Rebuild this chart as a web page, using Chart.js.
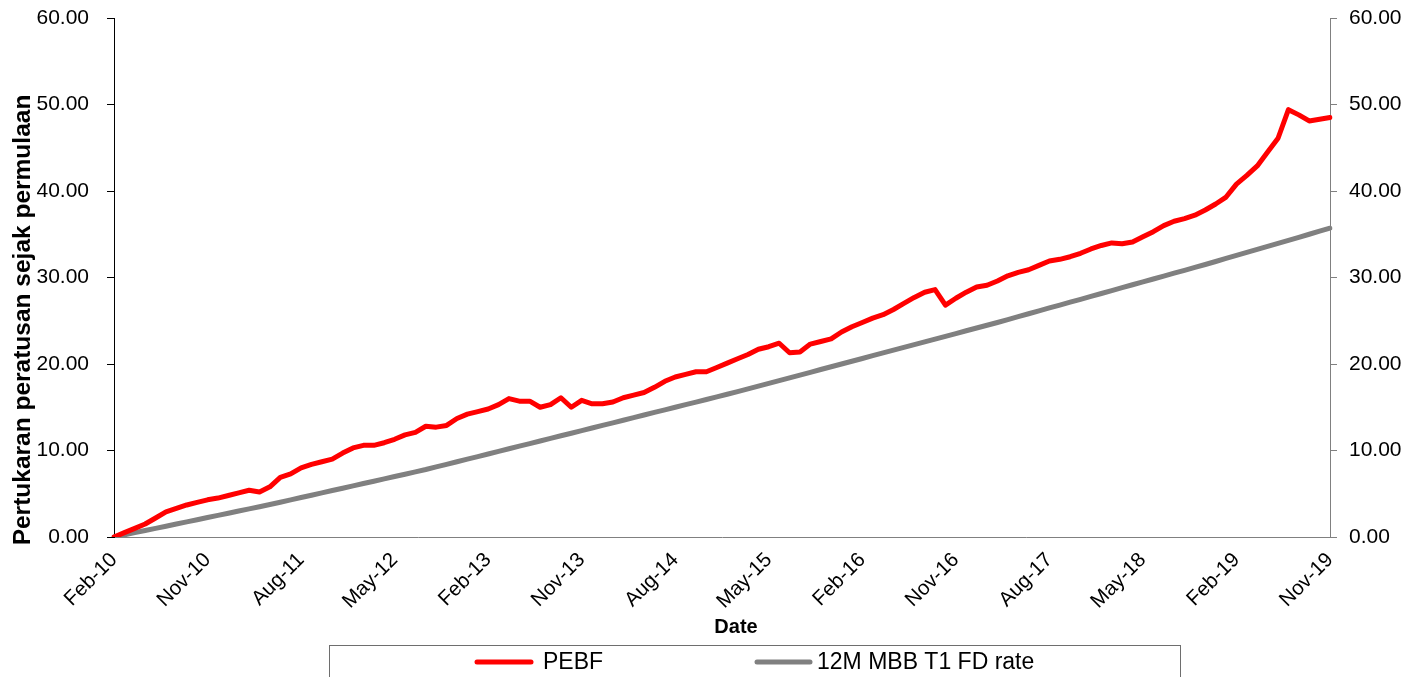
<!DOCTYPE html>
<html>
<head>
<meta charset="utf-8">
<script src="https://cdn.jsdelivr.net/npm/chart.js@4.4.1/dist/chart.umd.min.js"></script>
<style>
html,body{margin:0;padding:0;background:#fff;}
#wrap{width:1420px;height:677px;position:relative;}
canvas{display:block;}
</style>
</head>
<body>
<div id="wrap"><canvas id="c" width="1420" height="677"></canvas></div>
<script>
const categories = [
 'Feb-10','Mar-10','Apr-10','May-10','Jun-10','Jul-10','Aug-10','Sep-10','Oct-10','Nov-10','Dec-10',
 'Jan-11','Feb-11','Mar-11','Apr-11','May-11','Jun-11','Jul-11','Aug-11','Sep-11','Oct-11','Nov-11','Dec-11',
 'Jan-12','Feb-12','Mar-12','Apr-12','May-12','Jun-12','Jul-12','Aug-12','Sep-12','Oct-12','Nov-12','Dec-12',
 'Jan-13','Feb-13','Mar-13','Apr-13','May-13','Jun-13','Jul-13','Aug-13','Sep-13','Oct-13','Nov-13','Dec-13',
 'Jan-14','Feb-14','Mar-14','Apr-14','May-14','Jun-14','Jul-14','Aug-14','Sep-14','Oct-14','Nov-14','Dec-14',
 'Jan-15','Feb-15','Mar-15','Apr-15','May-15','Jun-15','Jul-15','Aug-15','Sep-15','Oct-15','Nov-15','Dec-15',
 'Jan-16','Feb-16','Mar-16','Apr-16','May-16','Jun-16','Jul-16','Aug-16','Sep-16','Oct-16','Nov-16','Dec-16',
 'Jan-17','Feb-17','Mar-17','Apr-17','May-17','Jun-17','Jul-17','Aug-17','Sep-17','Oct-17','Nov-17','Dec-17',
 'Jan-18','Feb-18','Mar-18','Apr-18','May-18','Jun-18','Jul-18','Aug-18','Sep-18','Oct-18','Nov-18','Dec-18',
 'Jan-19','Feb-19','Mar-19','Apr-19','May-19','Jun-19','Jul-19','Aug-19','Sep-19','Oct-19','Nov-19'
];

const tickLabels = ['Feb-10','Nov-10','Aug-11','May-12','Feb-13','Nov-13','Aug-14','May-15','Feb-16','Nov-16','Aug-17','May-18','Feb-19','Nov-19'];

const seriesNames = ['PEBF', '12M MBB T1 FD rate'];

const pebf = [
 0.0, 0.5, 1.0, 1.5, 2.2, 2.9, 3.3, 3.7, 4.0, 4.3, 4.5,
 4.8, 5.1, 5.4, 5.2, 5.8, 6.9, 7.3, 8.0, 8.4, 8.7, 9.0, 9.7,
 10.3, 10.6, 10.6, 10.9, 11.3, 11.8, 12.1, 12.8, 12.7, 12.9, 13.7, 14.2,
 14.5, 14.8, 15.3, 16.0, 15.7, 15.7, 15.0, 15.3, 16.1, 15.0, 15.8, 15.4,
 15.4, 15.6, 16.1, 16.4, 16.7, 17.3, 18.0, 18.5, 18.8, 19.1, 19.1, 19.6,
 20.1, 20.6, 21.1, 21.7, 22.0, 22.4, 21.3, 21.4, 22.3, 22.6, 22.9, 23.7,
 24.3, 24.8, 25.3, 25.7, 26.3, 27.0, 27.7, 28.3, 28.6, 26.8, 27.6, 28.3,
 28.9, 29.1, 29.6, 30.2, 30.6, 30.9, 31.4, 31.9, 32.1, 32.4, 32.8, 33.3,
 33.7, 34.0, 33.9, 34.1, 34.7, 35.3, 36.0, 36.5, 36.8, 37.2, 37.8, 38.5,
 39.3, 40.8, 41.8, 42.9, 44.5, 46.1, 49.4, 48.8, 48.1, 48.3, 48.5
];

const fdRate = [
 0.00, 0.25, 0.50, 0.75, 1.00, 1.25, 1.50, 1.75, 2.00, 2.25, 2.50,
 2.75, 3.00, 3.25, 3.50, 3.75, 4.02, 4.29, 4.56, 4.83, 5.10, 5.37, 5.64,
 5.91, 6.18, 6.45, 6.72, 6.99, 7.26, 7.53, 7.80, 8.10, 8.40, 8.70, 9.00,
 9.30, 9.60, 9.90, 10.20, 10.50, 10.80, 11.10, 11.40, 11.70, 12.00, 12.30, 12.60,
 12.90, 13.20, 13.50, 13.80, 14.10, 14.40, 14.70, 15.00, 15.30, 15.60, 15.90, 16.20,
 16.50, 16.80, 17.12, 17.44, 17.76, 18.08, 18.40, 18.72, 19.04, 19.36, 19.68, 20.00,
 20.32, 20.64, 20.96, 21.28, 21.60, 21.92, 22.24, 22.56, 22.88, 23.20, 23.52, 23.84,
 24.16, 24.48, 24.80, 25.14, 25.47, 25.81, 26.14, 26.48, 26.81, 27.15, 27.48, 27.82,
 28.15, 28.49, 28.82, 29.16, 29.49, 29.83, 30.16, 30.50, 30.83, 31.17, 31.50, 31.85,
 32.20, 32.55, 32.90, 33.25, 33.60, 33.95, 34.30, 34.65, 35.00, 35.35, 35.70
];

const FONT = "'Liberation Sans', Arial, sans-serif";

const decor = {
  id: 'decor',
  afterDraw(chart) {
    const ctx = chart.ctx;
    ctx.save();
    ctx.fillStyle = '#000';
    ctx.font = 'bold 24.5px ' + FONT;
    ctx.textAlign = 'center';
    ctx.textBaseline = 'middle';
    ctx.translate(23, 320);
    ctx.rotate(-Math.PI / 2);
    ctx.fillText('Pertukaran peratusan sejak permulaan', 0, 0);
    ctx.restore();

    ctx.save();
    ctx.fillStyle = '#000';
    ctx.font = 'bold 20px ' + FONT;
    ctx.textAlign = 'center';
    ctx.textBaseline = 'middle';
    ctx.fillText('Date', 736, 627);

    ctx.strokeStyle = '#6e6e6e';
    ctx.lineWidth = 1;
    ctx.strokeRect(329.5, 645.5, 851, 40);

    const items = [
      {x0: 477, x1: 531, tx: 543},
      {x0: 757, x1: 810, tx: 817}
    ];
    ctx.font = '23px ' + FONT;
    ctx.textAlign = 'left';
    ctx.textBaseline = 'middle';
    chart.data.datasets.forEach((ds, i) => {
      const it = items[i];
      ctx.strokeStyle = ds.borderColor;
      ctx.lineWidth = 5;
      ctx.lineCap = 'round';
      ctx.beginPath();
      ctx.moveTo(it.x0, 662);
      ctx.lineTo(it.x1, 662);
      ctx.stroke();
      ctx.fillStyle = '#000';
      ctx.fillText(ds.label, it.tx, 663);
    });
    ctx.restore();
  }
};

function fitY(w) {
  return function(scale) {
    scale.width = w;
    scale.paddingTop = 0;
    scale.paddingBottom = 0;
  };
}

new Chart(document.getElementById('c'), {
  type: 'line',
  data: {
    labels: categories,
    datasets: [
      {label: seriesNames[0], data: pebf, borderColor: '#FF0000', backgroundColor: '#FF0000', borderWidth: 5, pointRadius: 0, tension: 0, yAxisID: 'y', borderJoinStyle: 'round', borderCapStyle: 'round'},
      {label: seriesNames[1], data: fdRate, borderColor: '#808080', backgroundColor: '#808080', borderWidth: 5, pointRadius: 0, tension: 0, yAxisID: 'y', borderJoinStyle: 'round', borderCapStyle: 'round'}
    ]
  },
  options: {
    responsive: false,
    animation: false,
    layout: {padding: {top: 18, bottom: 0, left: 0, right: 0}},
    plugins: {legend: {display: false}, tooltip: {enabled: false}, title: {display: false}},
    scales: {
      x: {
        type: 'category',
        offset: false,
        grid: {display: false, drawTicks: false},
        border: {display: true, color: '#808080', width: 1},
        ticks: {
          autoSkip: false,
          maxRotation: 45,
          minRotation: 45,
          padding: 11,
          color: '#000',
          font: {family: FONT, size: 20.5},
          callback: function(value, index) {
            const lab = categories[index];
            return tickLabels.includes(lab) ? lab : '';
          }
        },
        afterFit(scale) { scale.height = 140; }
      },
      y: {
        position: 'left',
        min: 0, max: 60,
        grid: {drawOnChartArea: false, drawTicks: true, tickLength: 7, color: '#000'},
        border: {display: true, color: '#000', width: 1},
        ticks: {stepSize: 10, padding: 18, color: '#000', font: {family: FONT, size: 21},
          callback: v => v.toFixed(2)},
        afterFit: fitY(114)
      },
      y2: {
        position: 'right',
        min: 0, max: 60,
        grid: {drawOnChartArea: false, drawTicks: true, tickLength: 7, color: '#808080'},
        border: {display: true, color: '#808080', width: 1},
        ticks: {stepSize: 10, padding: 12, color: '#000', font: {family: FONT, size: 21},
          callback: v => v.toFixed(2)},
        afterFit: fitY(90)
      }
    }
  },
  plugins: [decor]
});
</script>
</body>
</html>
